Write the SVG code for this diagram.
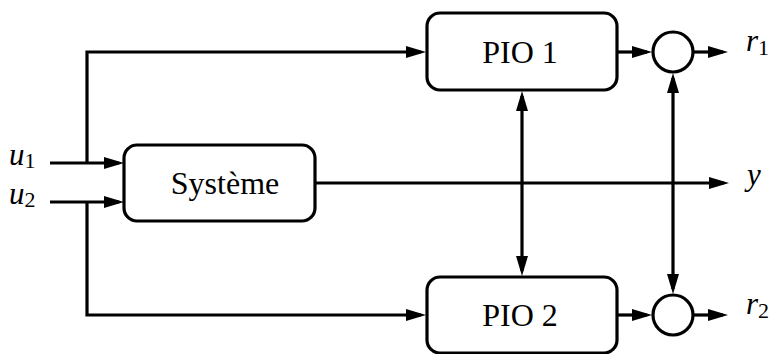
<svg xmlns="http://www.w3.org/2000/svg" width="771" height="354" viewBox="0 0 771 354">
<defs>
<style>
.box{fill:#fff;stroke:#000;stroke-width:3.2}
.ln{fill:none;stroke:#000;stroke-width:3.2}
.lbl{font-family:"Liberation Serif","Times New Roman",serif;font-size:32px;fill:#000}
.m{font-family:"Liberation Serif","Times New Roman",serif;font-size:31px;font-style:italic;fill:#000}
.sub{font-style:normal;font-size:22px}
</style>
<marker id="a" markerUnits="userSpaceOnUse" markerWidth="20" markerHeight="12" refX="15" refY="6" orient="auto-start-reverse" viewBox="0 0 20 12">
<path d="M0,0 L20,6 L0,12 z" fill="#000"/>
</marker>
</defs>
<g id="connectors">
<path class="ln" d="M50,163 H119" marker-end="url(#a)"/>
<path class="ln" d="M50,202 H119" marker-end="url(#a)"/>
<path class="ln" d="M87,163 V52 H421" marker-end="url(#a)"/>
<path class="ln" d="M87,202 V315 H421" marker-end="url(#a)"/>
<path class="ln" d="M315,183 H724" marker-end="url(#a)"/>
<path class="ln" d="M617,52 H647" marker-end="url(#a)"/>
<path class="ln" d="M693,52 H723" marker-end="url(#a)"/>
<path class="ln" d="M617,315 H647" marker-end="url(#a)"/>
<path class="ln" d="M693,315 H723" marker-end="url(#a)"/>
<path class="ln" d="M522,96 V271" marker-start="url(#a)" marker-end="url(#a)"/>
<path class="ln" d="M673,78 V289" marker-start="url(#a)" marker-end="url(#a)"/>
</g>
<g id="systeme">
<rect class="box" x="124" y="145" width="191" height="76" rx="13"/>
<text class="lbl" x="225" y="194" text-anchor="middle">Système</text>
</g>
<g id="pio1">
<rect class="box" x="427" y="13" width="190" height="77" rx="13"/>
<text class="lbl" x="520" y="63" text-anchor="middle">PIO 1</text>
</g>
<g id="pio2">
<rect class="box" x="427" y="277" width="190" height="76" rx="13"/>
<text class="lbl" x="520" y="326" text-anchor="middle">PIO 2</text>
</g>
<g id="sum1">
<circle class="box" cx="673" cy="52" r="20"/>
</g>
<g id="sum2">
<circle class="box" cx="673" cy="315" r="20"/>
</g>
<g id="labels">
<text class="m" x="9" y="165">u<tspan class="sub" dy="3">1</tspan></text>
<text class="m" x="9" y="204">u<tspan class="sub" dy="3">2</tspan></text>
<text class="m" x="746" y="51">r<tspan class="sub" dy="4">1</tspan></text>
<text class="m" x="746" y="314">r<tspan class="sub" dy="4">2</tspan></text>
<text class="m" x="747" y="185">y</text>
</g>
</svg>
